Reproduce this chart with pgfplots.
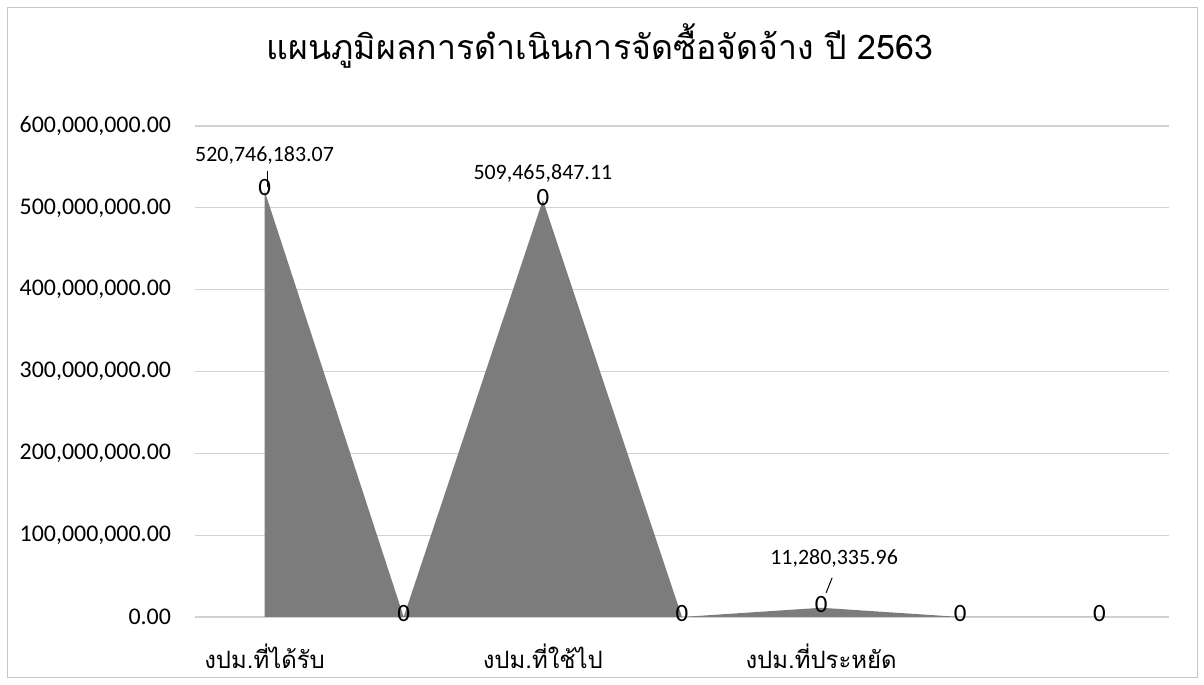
\documentclass[border=0pt]{standalone}
\usepackage{pgfplots}
\pgfplotsset{compat=1.18}
\usepackage{fontspec}
\setmainfont{Carlito}
\newfontfamily\thaifont[Script=Thai]{Loma}

\definecolor{areagray}{RGB}{124,124,124}
\definecolor{gridgray}{RGB}{210,210,210}

% budget figures, one point per category slot
\pgfplotstableread{
x y
0 520746183.07
1 0
2 509465847.11
3 0
4 11280335.96
5 0
6 0
}\procdata

% value labels with their offsets (bp)
\pgfplotstableread{
x y lab dx dy
0 520746183.07 520,746,183.07 0 13
2 509465847.11 509,465,847.11 0 8.5
4 11280335.96 11,280,335.96 6.5 20
}\vallabels

\begin{document}
\begin{tikzpicture}
\begin{axis}[
	name=ax,
	scale only axis,
	width=487bp,
	height=245.5bp,
	xmin=-0.5, xmax=6.5,
	ymin=0, ymax=600000000,
	clip=false,
	axis line style={draw=none},
	tick style={draw=none},
	ymajorgrids,
	grid style={gridgray, line width=0.6pt},
	ytick={0,100000000,200000000,300000000,400000000,500000000,600000000},
	scaled y ticks=false,
	yticklabel style={font=\fontsize{12}{14}\selectfont, xshift=-8.5bp,
		/pgf/number format/.cd, fixed, fixed zerofill, precision=2, 1000 sep={,}, assume math mode=true},
	xtick={0,2,4},
	xticklabels={งปม.ที่ได้รับ, งปม.ที่ใช้ไป, งปม.ที่ประหยัด},
	xticklabel style={font=\thaifont\fontsize{12}{14}\selectfont, yshift=-10bp},
]
\addplot[fill=areagray, draw=none] table[x=x, y=y] {\procdata} \closedcycle;
\addplot[draw=none, mark=none, nodes near coords={0}, nodes near coords align={center},
	every node near coord/.append style={font=\fontsize{12.5}{14}\selectfont, anchor=center, inner sep=0pt, yshift=1.5bp}]
	table[x=x, y=y] {\procdata};
\addplot[draw=none, mark=none, point meta=explicit symbolic, nodes near coords,
	visualization depends on={\thisrow{dx} \as \dx},
	visualization depends on={\thisrow{dy} \as \dy},
	every node near coord/.append style={font=\fontsize{11}{13}\selectfont, anchor=south, inner sep=0pt,
		xshift=\dx*1bp, yshift=\dy*1bp}]
	table[x=x, y=y, meta=lab] {\vallabels};
% leader lines
\draw[black, line width=0.5pt] ([shift={(1.5bp,2bp)}]axis cs:0,520746183.07) -- ([shift={(1.5bp,10bp)}]axis cs:0,520746183.07);
\draw[black, line width=0.5pt] ([shift={(2.5bp,7.5bp)}]axis cs:4,11280335.96) -- ([shift={(5.5bp,15bp)}]axis cs:4,11280335.96);
\end{axis}
\node[font=\thaifont\fontsize{17}{20}\selectfont] at ([shift={(202.5bp,40bp)}]ax.north west)
	{แผนภูมิผลการดำเนินการจัดซื้อจัดจ้าง ปี 2563};
\draw[gray!45, line width=0.5pt] ([shift={(-93.5bp,-30.5bp)}]ax.south west) rectangle ([shift={(14bp,59bp)}]ax.north east);
\pgfresetboundingbox
\path[use as bounding box] ([shift={(-97.5bp,-34bp)}]ax.south west) rectangle ([shift={(17.5bp,63bp)}]ax.north east);
\end{tikzpicture}
\end{document}
